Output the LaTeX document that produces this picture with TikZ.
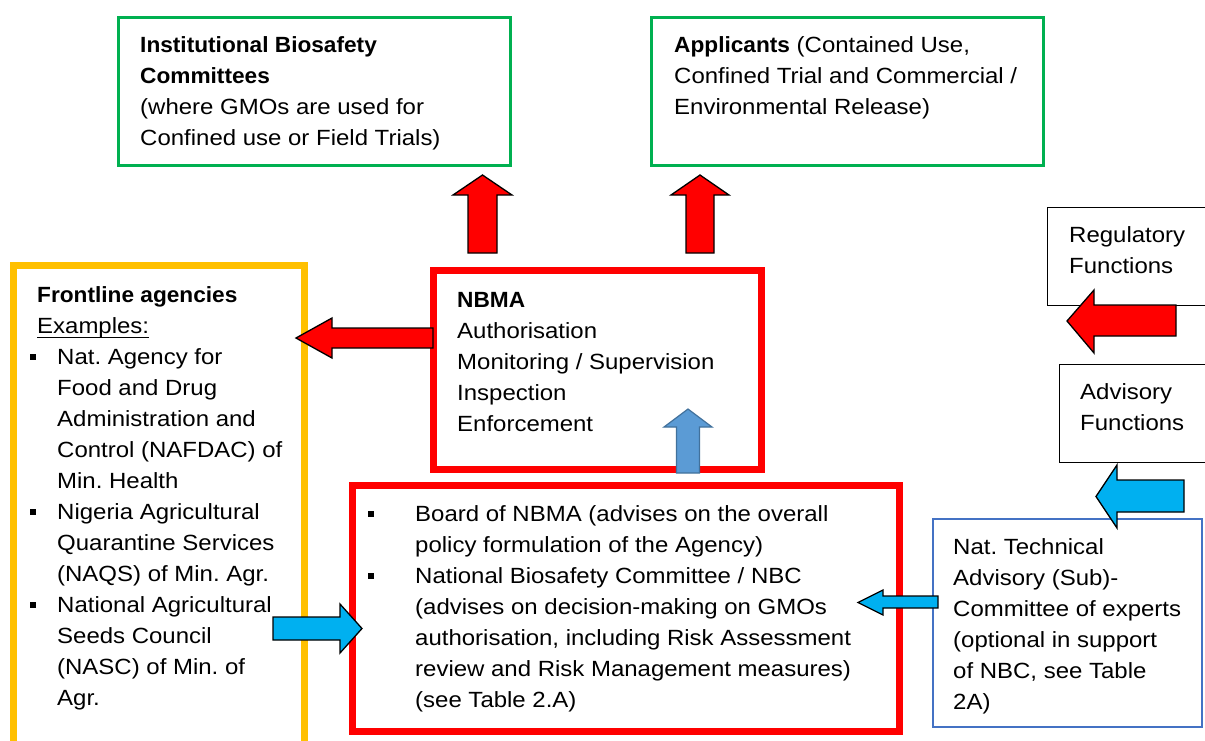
\documentclass[tikz,border=0pt]{standalone}
\usepackage{fontspec}
\setmainfont{Liberation Sans}[FakeStretch=1.09,BoldFeatures={FakeStretch=1.03}]
\frenchspacing
\definecolor{nred}{HTML}{FF0000}
\definecolor{ngreen}{HTML}{00B050}
\definecolor{norange}{HTML}{FFC000}
\definecolor{ncyan}{HTML}{00B0F0}
\definecolor{nblue}{HTML}{4472C4}
\definecolor{steel}{HTML}{5B9BD5}
\definecolor{steeldark}{HTML}{41719C}
\newcommand\bulg[1]{\llap{\rule[4.5pt]{6.5pt}{6.5pt}\hspace{#1}}}
\newcommand\uln[1]{\setbox0\hbox{#1}\rlap{\rule[-4.5pt]{\wd0}{1.3pt}}\box0}
\tikzset{
  txt/.style={anchor=north west, inner sep=0pt, align=left, font=\fontsize{22pt}{31pt}\selectfont\frenchspacing},
  redbox/.style={draw=nred, line width=7pt},
  greenbox/.style={draw=ngreen, line width=3pt},
  thinbox/.style={draw=black, line width=1.2pt},
  bluebox/.style={draw=nblue, line width=2pt},
  redarrow/.style={fill=nred, draw=black, line width=1.3pt},
  cyanarrow/.style={fill=ncyan, draw=black, line width=1.3pt},
  steelarrow/.style={fill=steel, draw=steeldark, line width=1.2pt},
}
\begin{document}
\begin{tikzpicture}[x=1pt,y=-1pt]
\useasboundingbox[fill=white] (0,0) rectangle (1205,740);
\begin{scope}
\clip (0,0) rectangle (1205,740);
% boxes
\draw[greenbox] (118.5,17.5) rectangle (510.5,165.5);
\draw[greenbox] (651.5,17.5) rectangle (1043.5,165.5);
\draw[draw=norange, line width=7pt] (13.5,745) -- (13.5,265.5) -- (304.5,265.5) -- (304.5,745);
\draw[redbox] (433.5,270.5) rectangle (761.5,469.5);
\draw[redbox] (352.5,485.5) rectangle (899.5,731.5);
\draw[thinbox] (1047.5,207.5) rectangle (1210,305.5);
\draw[thinbox] (1059.5,364.5) rectangle (1210,462.5);
\draw[bluebox] (933,519) rectangle (1202,727);

% texts
\node[txt] (ibc) at (140,36) {\textbf{Institutional Biosafety}\\\textbf{Committees}\\(where GMOs are used for\\Confined use or Field Trials)};
\node[txt] (app) at (674,36.5) {\textbf{Applicants} (Contained Use,\\Confined Trial and Commercial /\\Environmental Release)};
\node[txt] (front) at (37,286.5) {\textbf{Frontline agencies}\\\uln{Examples:}\\
\hspace*{20pt}\bulg{21pt}Nat. Agency for\\
\hspace*{20pt}Food and Drug\\
\hspace*{20pt}Administration and\\
\hspace*{20pt}Control (NAFDAC) of\\
\hspace*{20pt}Min. Health\\
\hspace*{20pt}\bulg{21pt}Nigeria Agricultural\\
\hspace*{20pt}Quarantine Services\\
\hspace*{20pt}(NAQS) of Min. Agr.\\
\hspace*{20pt}\bulg{21pt}National Agricultural\\
\hspace*{20pt}Seeds Council\\
\hspace*{20pt}(NASC) of Min. of\\
\hspace*{20pt}Agr.};
\node[txt] (nbma) at (457,292) {\textbf{NBMA}\\Authorisation\\Monitoring / Supervision\\Inspection\\Enforcement};
\node[txt] (board) at (415,505.5) {\bulg{41pt}Board of NBMA (advises on the overall\\
policy formulation of the Agency)\\
\bulg{41pt}National Biosafety Committee / NBC\\
(advises on decision-making on GMOs\\
authorisation, including Risk Assessment\\
review and Risk Management measures)\\
(see Table 2.A)};
\node[txt] (reg) at (1069,226) {Regulatory\\Functions};
\node[txt] (adv) at (1080,383) {Advisory\\Functions};
\node[txt] (ntac) at (953,538) {Nat. Technical\\Advisory (Sub)-\\Committee of experts\\(optional in support\\of NBC, see Table\\2A)};

% block arrows
\draw[redarrow] (468,253) -- (468,195) -- (453,195) -- (482.5,175) -- (512,195) -- (497,195) -- (497,253) -- cycle;
\draw[redarrow] (686,253) -- (686,195) -- (671,195) -- (700,175) -- (729,195) -- (714,195) -- (714,253) -- cycle;
\draw[redarrow] (433,328) -- (332,328) -- (332,318) -- (296,338) -- (332,358) -- (332,348) -- (433,348) -- cycle;
\draw[steelarrow] (676.5,473) -- (676.5,427) -- (664,427) -- (688,409) -- (712,427) -- (699.5,427) -- (699.5,473) -- cycle;
\draw[cyanarrow] (273,617) -- (340,617) -- (340,604) -- (362,628.5) -- (340,653) -- (340,640) -- (273,640) -- cycle;
\draw[redarrow] (1176,305) -- (1094,305) -- (1094,290) -- (1067,321) -- (1094,353) -- (1094,336) -- (1176,336) -- cycle;
\draw[cyanarrow] (1184,480) -- (1117,480) -- (1117,465) -- (1096,496.5) -- (1117,528) -- (1117,512) -- (1184,512) -- cycle;
\draw[cyanarrow] (938,596) -- (883,596) -- (883,590) -- (858,602.5) -- (883,615) -- (883,608) -- (938,608) -- cycle;
\end{scope}
\end{tikzpicture}
\end{document}
